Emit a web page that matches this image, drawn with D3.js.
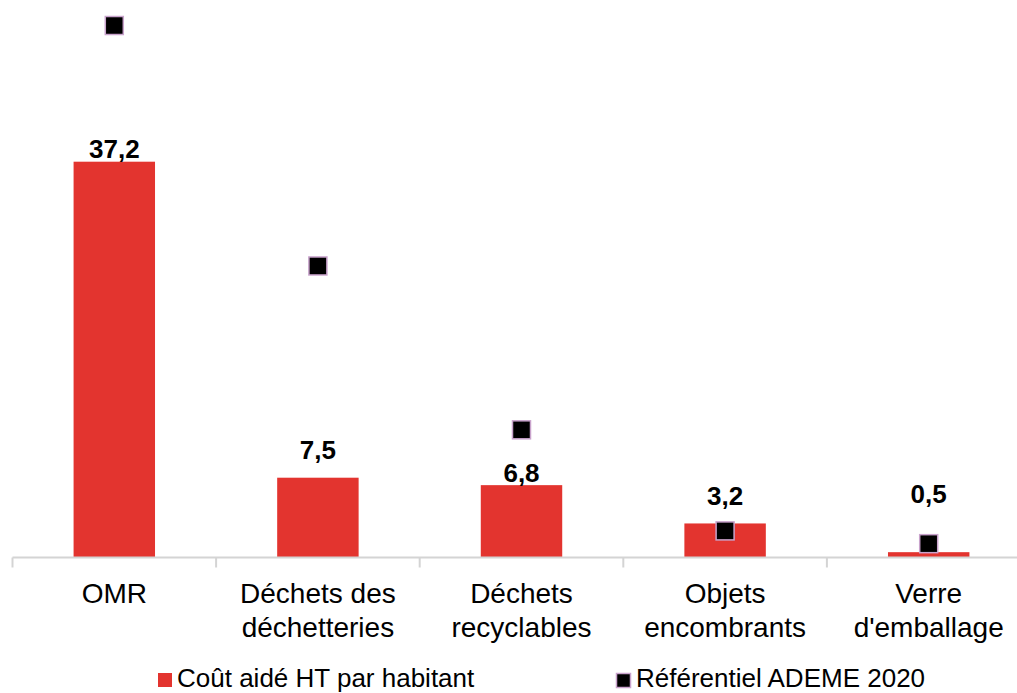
<!DOCTYPE html>
<html>
<head>
<meta charset="utf-8">
<script src="https://cdn.jsdelivr.net/npm/d3@7/dist/d3.min.js"></script>
<style>
  html, body { margin: 0; padding: 0; background: #ffffff; }
  svg { display: block; font-family: "Liberation Sans", Arial, sans-serif; }
</style>
</head>
<body>
<svg id="chart" width="1017" height="693"></svg>
<script>
// ---- data ----
const categories = [["OMR"], ["Déchets des", "déchetteries"], ["Déchets", "recyclables"], ["Objets", "encombrants"], ["Verre", "d'emballage"]];
const coutAide = [37.2, 7.5, 6.8, 3.2, 0.5];
const referentielAdeme = [50, 27.4, 12, 2.5, 1.3];
const valueLabels = ["37,2", "7,5", "6,8", "3,2", "0,5"];
const labelGap = [4, 19, 3, 18, 49];
const seriesNames = ["Coût aidé HT par habitant", "Référentiel ADEME 2020"];

// ---- layout ----
const svg = d3.select("#chart");
const baseY = 557.5;
const keys = categories.map((c, i) => i);

const x = d3.scaleBand().domain(keys).range([12.5, 1030.5]).paddingInner(0).paddingOuter(0);
const y = d3.scaleLinear().domain([0, 37.2]).range([baseY, 161.7]);

const barW = x.bandwidth() * 0.4;
const barColor = "#e3342f";

// bars
svg.append("g").selectAll("rect").data(coutAide).join("rect")
  .attr("x", (d, i) => x(i) + (x.bandwidth() - barW) / 2)
  .attr("y", d => y(d))
  .attr("width", barW)
  .attr("height", d => baseY - y(d))
  .attr("fill", barColor);

// axis
const axis = d3.axisBottom(x).tickSize(10).tickFormat("").tickSizeOuter(0);
const gAxis = svg.append("g").attr("transform", `translate(0,${baseY})`).call(axis);
gAxis.select(".domain").attr("stroke", "#d4d4d4").attr("stroke-width", 2);
gAxis.selectAll(".tick").remove();
// ticks at band boundaries
const bounds = keys.map(k => x(k)).concat([x(keys.length - 1) + x.bandwidth()]);
gAxis.selectAll("line.bt").data(bounds).join("line")
  .attr("class", "bt")
  .attr("x1", d => d).attr("x2", d => d)
  .attr("y1", 0).attr("y2", 10)
  .attr("stroke", "#d4d4d4").attr("stroke-width", 2);
gAxis.select(".domain").attr("d", `M${bounds[0]},0H${bounds[bounds.length-1]}`);

// category labels
const catG = svg.append("g");
categories.forEach((lines, i) => {
  const t = catG.append("text")
    .attr("x", x(i) + x.bandwidth() / 2)
    .attr("y", 603)
    .attr("text-anchor", "middle")
    .attr("font-size", 28)
    .attr("fill", "#000");
  lines.forEach((ln, j) => {
    t.append("tspan").attr("x", x(i) + x.bandwidth() / 2).attr("dy", j === 0 ? 0 : 33.5).text(ln);
  });
});

// value labels
svg.append("g").selectAll("text").data(coutAide).join("text")
  .attr("x", (d, i) => x(i) + x.bandwidth() / 2)
  .attr("y", (d, i) => y(d) - labelGap[i])
  .attr("text-anchor", "middle")
  .attr("font-size", 26)
  .attr("font-weight", "bold")
  .attr("fill", "#000")
  .text((d, i) => valueLabels[i]);

// markers
const mSize = 18;
svg.append("g").selectAll("rect").data(referentielAdeme).join("rect")
  .attr("x", (d, i) => x(i) + x.bandwidth() / 2 - mSize / 2)
  .attr("y", d => y(d) - mSize / 2)
  .attr("width", mSize)
  .attr("height", mSize)
  .attr("fill", "#000")
  .attr("stroke", "#c9a3cc")
  .attr("stroke-width", 1.5);

// legend
const leg = svg.append("g");
leg.append("rect").attr("x", 158).attr("y", 673).attr("width", 14).attr("height", 14).attr("fill", barColor);
leg.append("text").attr("x", 177).attr("y", 687).attr("font-size", 26).attr("fill", "#000").text(seriesNames[0]);
leg.append("rect").attr("x", 616.5).attr("y", 673.5).attr("width", 14).attr("height", 14)
  .attr("fill", "#000").attr("stroke", "#c9a3cc").attr("stroke-width", 1.5);
leg.append("text").attr("x", 636).attr("y", 687).attr("font-size", 26).attr("fill", "#000").text(seriesNames[1]);
</script>
</body>
</html>
